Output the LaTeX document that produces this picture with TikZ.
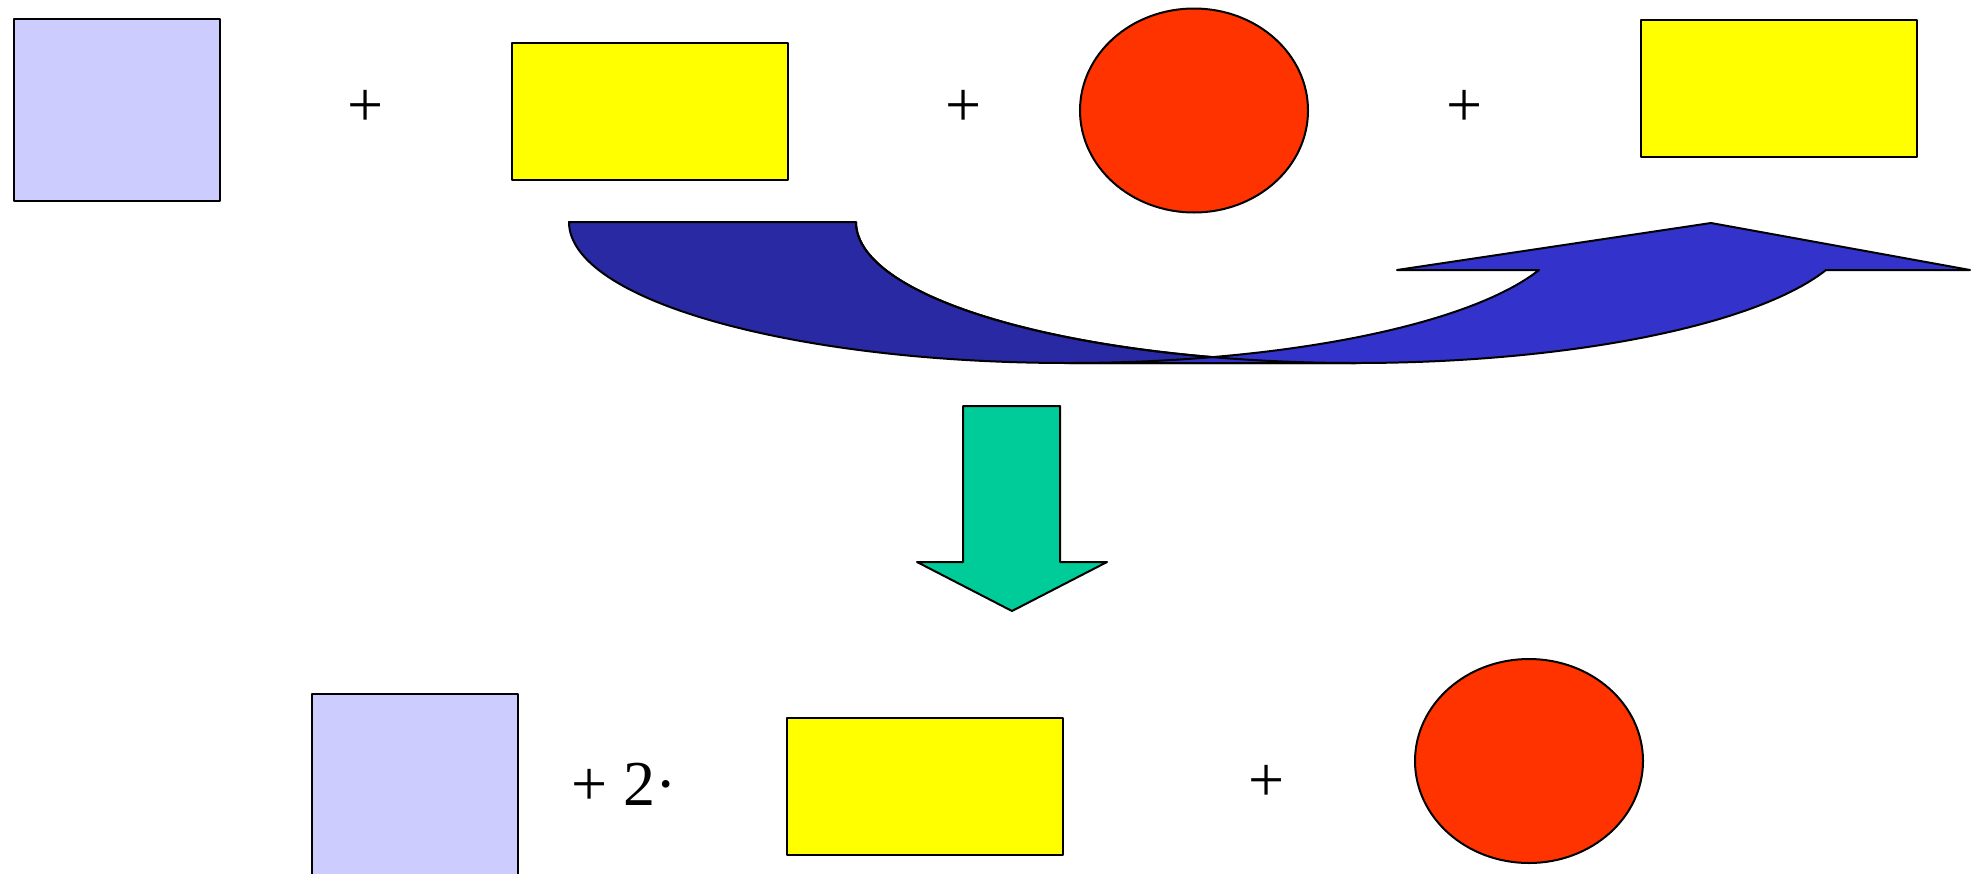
\documentclass[tikz,border=0pt]{standalone}
\usepackage{fontspec}
\setmainfont{Liberation Serif}
\usetikzlibrary{shapes.geometric}

\definecolor{lavender}{HTML}{CCCCFF}
\definecolor{lemon}{HTML}{FFFF00}
\definecolor{tomato}{HTML}{FF3300}
\definecolor{mint}{HTML}{00CC99}
\definecolor{backblue}{HTML}{2929A3}
\definecolor{frontblue}{HTML}{3333CC}

\begin{document}
\begin{tikzpicture}[
    x=1pt, y=-1pt,
    line width=2pt, line join=round,
    piece/.style={draw, inner sep=0pt, outer sep=0pt},
    sq/.style={piece, rectangle, fill=lavender, minimum width=206pt, minimum height=182pt},
    bar/.style={piece, rectangle, fill=lemon, minimum width=276pt, minimum height=137pt},
    disc/.style={piece, ellipse, fill=tomato, minimum width=228pt, minimum height=204pt},
    op/.style={inner sep=0pt, anchor=base, font=\fontsize{64}{72}\selectfont}
]
    \useasboundingbox (0,0) rectangle (1980,873);

    % obere Zeile
    \node[sq] (s1) at (117,110) {};
    \node[op] (p1) at (366,126) {+};
    \node[bar] (r1) at (650,111.5) {};
    \node[op] (p2) at (964,126) {+};
    \node[disc] (e1) at (1194,110.5) {};
    \node[op] (p3) at (1465,126) {+};
    \node[bar] (r2) at (1778.5,88) {};

    % gebogener Pfeil
    \draw[fill=backblue] (569,222) -- (856,222)
        .. controls (856,300) and (1080,363) .. (1356,363) -- (1069,363)
        .. controls (793,363) and (569,300) .. cycle;
    \draw[fill=frontblue] (1069,363) -- (1356,363)
        .. controls (1566,363) and (1755,326) .. (1826,270)
        -- (1970,270) -- (1711,223) -- (1397,270) -- (1539,270)
        .. controls (1468,326) and (1279,363) .. (1069,363) -- cycle;
    \draw (856,222) .. controls (856,300) and (1080,363) .. (1356,363);

    % Blockpfeil nach unten
    \draw[fill=mint] (963,406) -- (1060,406) -- (1060,562) -- (1107,562)
        -- (1012,611) -- (917,562) -- (963,562) -- cycle;

    % untere Zeile
    \node[sq] (s2) at (415,785) {};
    \node[op, anchor=base west] (p4) at (570,805) {+ 2·};
    \node[bar] (r3) at (925,786) {};
    \node[op] (p5) at (1267,801) {+};
    \node[disc] (e2) at (1529,761) {};
\end{tikzpicture}
\end{document}
